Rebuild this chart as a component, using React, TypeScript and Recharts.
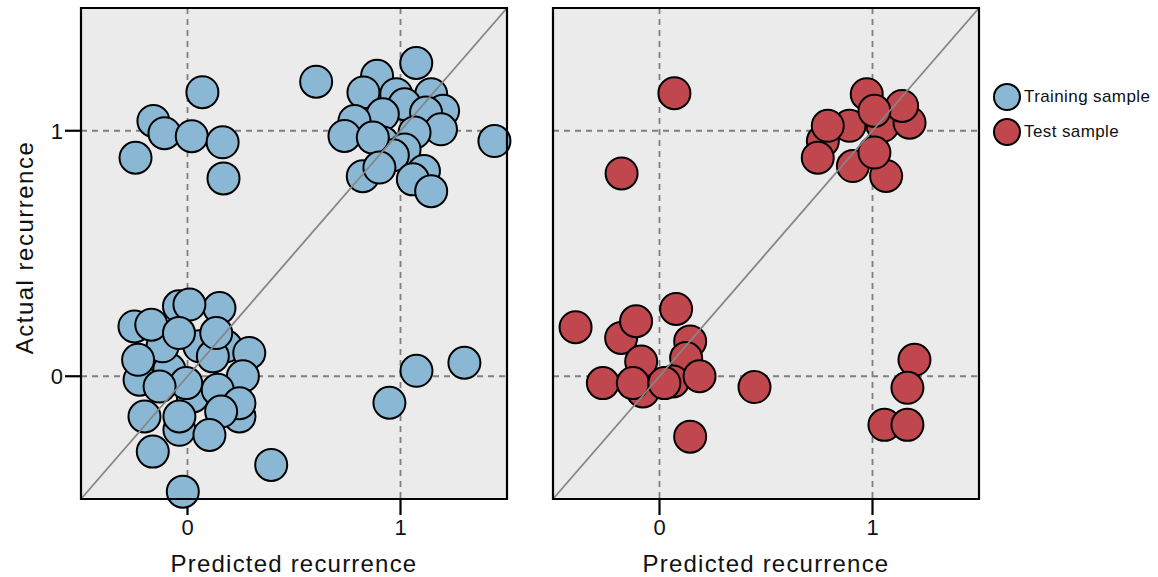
import React from "react";
import {
  ScatterChart,
  Scatter,
  XAxis,
  YAxis,
  CartesianGrid,
  ReferenceLine,
  ReferenceArea,
  Legend,
} from "recharts";

// axis setup shared by both panels
const DOMAIN: [number, number] = [-0.5, 1.5];
const TICKS = [0, 1];

// training sample: predicted vs actual recurrence (jittered)
const trainPredicted = [
  0.07, -0.16, -0.108, 0.02, 0.165, -0.244, 0.169,
  0.604, 1.074, 0.89, 0.826, 0.98, 1.144, 1.019, 1.2, 1.12, 0.917, 0.784,
  1.19, 0.737, 1.066, 0.917, 1.019, 0.964, 1.11, 0.87, 1.441, 0.823, 0.901,
  1.058, 1.144,
  -0.085, 0.025, -0.225, -0.117, 0.244, -0.04, 0.15, 0.056, 0.18, 0.29,
  0.119, 0.26, -0.006, 0.142, 0.244, -0.038, 0.009, -0.249, -0.17, -0.04,
  0.135, -0.232, -0.131, -0.202, -0.038, 0.158, 0.103, -0.163, 0.393, -0.022,
  0.948, 1.075, 1.3,
];
const trainActual = [
  1.157, 1.04, 0.99, 0.978, 0.953, 0.89, 0.806,
  1.2, 1.276, 1.224, 1.156, 1.149, 1.149, 1.108, 1.081, 1.074, 1.067, 1.04,
  1.006, 0.979, 0.993, 0.952, 0.924, 0.9, 0.836, 0.972, 0.958, 0.815, 0.85,
  0.802, 0.754,
  0.027, -0.082, -0.014, 0.122, -0.164, 0.285, 0.278, 0.122, 0.122, 0.095,
  0.081, 0.0, -0.028, -0.055, -0.11, -0.218, 0.292, 0.203, 0.21, 0.176,
  0.176, 0.067, -0.042, -0.164, -0.164, -0.144, -0.239, -0.307, -0.361, -0.47,
  -0.108, 0.022, 0.055,
];

// test sample
const testPredicted = [
  0.07, -0.178,
  0.892, 1.048, 0.973, 1.174, 1.139, 1.009, 0.767, 0.79, 0.743, 0.908,
  1.064, 1.009,
  -0.394, -0.18, -0.11, 0.078, 0.144, -0.086, 0.125, -0.266, -0.078,
  -0.125, 0.063, 0.023, 0.188, 0.446, 0.144,
  1.197, 1.164, 1.056, 1.164,
];
const testActual = [
  1.153, 0.826,
  1.02, 1.02, 1.149, 1.033, 1.101, 1.081, 0.958, 1.02, 0.89, 0.856,
  0.816, 0.911,
  0.2, 0.156, 0.224, 0.274, 0.142, 0.06, 0.074, -0.028, -0.062,
  -0.028, -0.021, -0.028, 0.0, -0.044, -0.246,
  0.067, -0.047, -0.198, -0.198,
];

const seriesNames = ["Training sample", "Test sample"];
const seriesColors = ["#8ab8d4", "#c1474f"];

const toPoints = (xs: number[], ys: number[]) =>
  xs.map((x, i) => ({ x, y: ys[i] }));

const trainPoints = toPoints(trainPredicted, trainActual);
const testPoints = toPoints(testPredicted, testActual);

const FONT = '"Liberation Sans", Arial, sans-serif';
const HEIGHT = 577;

const dot = (color: string) => (props: any) =>
  (
    <circle
      cx={props.cx}
      cy={props.cy}
      r={16}
      fill={color}
      stroke="#000"
      strokeWidth={2}
    />
  );

function LegendBox() {
  return (
    <div style={{ fontFamily: FONT, fontSize: 17, color: "#111" }}>
      {seriesNames.map((name, i) => (
        <div
          key={name}
          style={{ display: "flex", alignItems: "center", height: 35 }}
        >
          <svg width={30} height={30}>
            <circle
              cx={15}
              cy={15}
              r={13}
              fill={seriesColors[i]}
              stroke="#000"
              strokeWidth={2}
            />
          </svg>
          <span style={{ marginLeft: 2, letterSpacing: 0.4 }}>{name}</span>
        </div>
      ))}
    </div>
  );
}

interface PanelProps {
  points: { x: number; y: number }[];
  color: string;
  width: number;
  margin: { top: number; right: number; bottom: number; left: number };
  withYAxis: boolean;
  withLegend: boolean;
}

function Panel({ points, color, width, margin, withYAxis, withLegend }: PanelProps) {
  return (
    <ScatterChart width={width} height={HEIGHT} margin={margin}>
      <CartesianGrid
        fill="#ebebeb"
        stroke="#7f7f7f"
        strokeWidth={1.8}
        strokeDasharray="6 5"
      />
      <XAxis
        type="number"
        dataKey="x"
        domain={DOMAIN}
        ticks={TICKS}
        height={78}
        axisLine={false}
        tickLine={{ stroke: "#000", strokeWidth: 2.2 }}
        tickSize={16}
        tickMargin={4}
        tick={{ fontSize: 22, fill: "#111" }}
        label={{
          value: "Predicted recurrence",
          position: "insideBottom",
          offset: 5,
          fontSize: 24,
          fill: "#111",
          letterSpacing: 1.2,
        }}
      />
      <YAxis
        type="number"
        dataKey="y"
        domain={DOMAIN}
        ticks={TICKS}
        width={81}
        hide={!withYAxis}
        axisLine={false}
        tickLine={{ stroke: "#000", strokeWidth: 2.2 }}
        tickSize={16}
        tickMargin={2}
        tick={{ fontSize: 22, fill: "#111" }}
        label={{
          value: "Actual recurrence",
          position: "center",
          angle: -90,
          dx: -16,
          dy: -6,
          fontSize: 24,
          fill: "#111",
          letterSpacing: 1.5,
        }}
      />
      <Scatter
        data={points}
        fill={color}
        shape={dot(color)}
        isAnimationActive={false}
      />
      <ReferenceLine
        segment={[
          { x: DOMAIN[0], y: DOMAIN[0] },
          { x: DOMAIN[1], y: DOMAIN[1] },
        ]}
        stroke="#868686"
        strokeWidth={1.8}
        ifOverflow="visible"
        zIndex={900}
      />
      <ReferenceArea
        x1={DOMAIN[0]}
        x2={DOMAIN[1]}
        y1={DOMAIN[0]}
        y2={DOMAIN[1]}
        fill="none"
        fillOpacity={0}
        stroke="#000"
        strokeWidth={2.2}
        ifOverflow="visible"
        zIndex={1000}
      />
      {withLegend && (
        <Legend
          layout="horizontal"
          align="center"
          verticalAlign="middle"
          content={() => <LegendBox />}
          wrapperStyle={{ left: 472, top: 79, width: 170, height: 70 }}
        />
      )}
    </ScatterChart>
  );
}

export default function App() {
  return (
    <div
      style={{
        position: "absolute",
        left: 0,
        top: 0,
        width: 1158,
        height: HEIGHT,
        background: "#fff",
        fontFamily: FONT,
      }}
    >
      <div style={{ position: "absolute", left: 0, top: 0 }}>
        <Panel
          points={trainPoints}
          color={seriesColors[0]}
          width={520}
          margin={{ top: 8, right: 13, bottom: 0, left: 0 }}
          withYAxis
          withLegend={false}
        />
      </div>
      <div style={{ position: "absolute", left: 520, top: 0 }}>
        <Panel
          points={testPoints}
          color={seriesColors[1]}
          width={638}
          margin={{ top: 8, right: 179, bottom: 0, left: 33 }}
          withYAxis={false}
          withLegend
        />
      </div>
    </div>
  );
}
